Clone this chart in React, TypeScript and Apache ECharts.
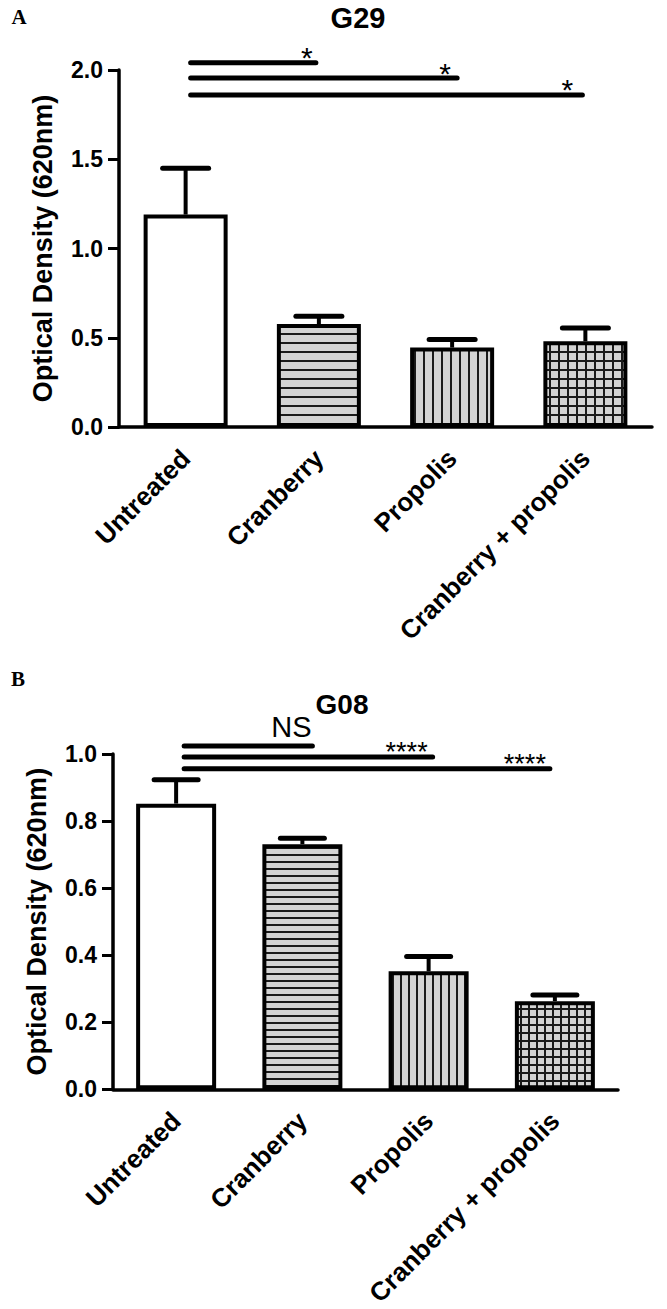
import React, { useEffect, useRef } from 'react';
import * as echarts from 'echarts';

const categories = ['Untreated', 'Cranberry', 'Propolis', 'Cranberry + propolis'];

// Panel A (G29)
const meanA = [1.19, 0.577, 0.445, 0.48];
const semA = [0.26, 0.043, 0.045, 0.075];
const sigToA = [1, 2, 3];
const sigYA = [2.04, 1.955, 1.86];
const sigLabelA = ['*', '*', '*'];

// Panel B (G08)
const meanB = [0.852, 0.731, 0.352, 0.263];
const semB = [0.071, 0.018, 0.044, 0.018];
const sigToB = [1, 2, 3];
const sigYB = [1.024, 0.991, 0.956];
const sigLabelB = ['NS', '****', '****'];

const FONT = 'Arial, "Liberation Sans", Helvetica, sans-serif';

function makePattern(kind: string, size: number) {
  const c = document.createElement('canvas');
  c.width = size;
  c.height = size;
  const ctx = c.getContext('2d') as CanvasRenderingContext2D;
  ctx.fillStyle = '#d3d3d3';
  ctx.fillRect(0, 0, size, size);
  ctx.fillStyle = '#1a1a1a';
  if (kind === 'h' || kind === 'grid') ctx.fillRect(0, 0, size, 2);
  if (kind === 'v' || kind === 'grid') ctx.fillRect(0, 0, 2, size);
  return { image: c, repeat: 'repeat', imageWidth: size, imageHeight: size };
}

function fillsFor(sizes: number[]) {
  return [
    '#ffffff',
    makePattern('h', sizes[0]),
    makePattern('v', sizes[1]),
    makePattern('grid', sizes[2]),
  ];
}

function yAxisCfg(gridIndex: number, max: number, interval: number) {
  return {
    gridIndex,
    type: 'value',
    min: 0,
    max,
    interval,
    name: 'Optical Density (620nm)',
    nameLocation: 'middle',
    nameGap: 63,
    nameTextStyle: { fontSize: 27, fontWeight: 'bold', color: '#000', fontFamily: FONT },
    axisLine: { show: true, lineStyle: { color: '#000', width: 3.5 } },
    axisTick: { show: true, length: 11, lineStyle: { color: '#000', width: 3 } },
    axisLabel: {
      margin: 16,
      fontSize: 23,
      fontWeight: 'bold',
      color: '#000',
      fontFamily: FONT,
      formatter: (v: number) => v.toFixed(1),
    },
    splitLine: { show: false },
  };
}

function xAxisCfg(gridIndex: number) {
  return {
    gridIndex,
    type: 'category',
    data: categories,
    axisLine: { lineStyle: { color: '#000', width: 3.5 } },
    axisTick: { alignWithLabel: true, length: 11, lineStyle: { color: '#000', width: 3 } },
    axisLabel: {
      rotate: 45,
      margin: 27,
      fontSize: 26,
      fontWeight: 'bold',
      color: '#000',
      fontFamily: FONT,
      interval: 0,
    },
  };
}

function barSeries(idx: number, means: number[], fills: any[], barWidth: number) {
  return {
    type: 'bar',
    xAxisIndex: idx,
    yAxisIndex: idx,
    barWidth,
    data: means.map((v, i) => ({
      value: v,
      itemStyle: { color: fills[i], borderColor: '#000', borderWidth: 4 },
    })),
    z: 2,
  };
}

function errSeries(idx: number, means: number[], sems: number[], capHalf: number) {
  return {
    type: 'custom',
    xAxisIndex: idx,
    yAxisIndex: idx,
    z: 3,
    data: means.map((m, i) => [i, m, sems[i]]),
    renderItem: (params: any, api: any) => {
      const i = api.value(0);
      const m = api.value(1);
      const e = api.value(2);
      const base = api.coord([i, m]);
      const top = api.coord([i, m + e]);
      return {
        type: 'group',
        children: [
          {
            type: 'line',
            shape: { x1: base[0], y1: base[1], x2: top[0], y2: top[1] },
            style: { stroke: '#000', lineWidth: 4 },
          },
          {
            type: 'line',
            shape: { x1: top[0] - capHalf, y1: top[1], x2: top[0] + capHalf, y2: top[1] },
            style: { stroke: '#000', lineWidth: 5, lineCap: 'round' },
          },
        ],
      };
    },
  };
}

function sigSeries(
  idx: number,
  tos: number[],
  ys: number[],
  labels: string[],
  cfg: { startDx: number; endDx: number[]; size: number[]; dx: number[]; dy: number[] }
) {
  return {
    type: 'custom',
    xAxisIndex: idx,
    yAxisIndex: idx,
    z: 4,
    clip: false,
    data: tos.map((t, i) => [t, ys[i], i]),
    renderItem: (params: any, api: any) => {
      const to = api.value(0);
      const y = api.value(1);
      const k = api.value(2);
      const start = api.coord([0, y]);
      const end = api.coord([to, y]);
      const ex = end[0] + cfg.endDx[k];
      return {
        type: 'group',
        children: [
          {
            type: 'line',
            shape: { x1: start[0] + cfg.startDx, y1: start[1], x2: ex, y2: end[1] },
            style: { stroke: '#000', lineWidth: 5, lineCap: 'round' },
          },
          {
            type: 'text',
            x: ex + cfg.dx[k],
            y: end[1] + cfg.dy[k],
            style: {
              text: labels[k],
              fontSize: cfg.size[k],
              fontWeight: 'normal',
              fontFamily: FONT,
              fill: '#000',
              align: 'center',
              verticalAlign: 'middle',
            },
          },
        ],
      };
    },
  };
}

export default function App() {
  const ref = useRef<HTMLDivElement>(null);
  useEffect(() => {
    if (!ref.current) return;
    const chart = echarts.init(ref.current, undefined, { renderer: 'svg' });
    const fillsA = fillsFor([9, 9, 9]);
    const fillsB = fillsFor([7, 8, 8]);
    const serif = '"Times New Roman", "Liberation Serif", serif';
    chart.setOption({
      animation: false,
      backgroundColor: '#ffffff',
      grid: [
        { left: 119, top: 70, width: 533, height: 357 },
        { left: 113, top: 754, width: 505, height: 338 },
      ],
      xAxis: [xAxisCfg(0), xAxisCfg(1)],
      yAxis: [yAxisCfg(0, 2.0, 0.5), yAxisCfg(1, 1.0, 0.2)],
      graphic: [
        {
          type: 'text', x: 19, y: 17,
          style: { text: 'A', fontSize: 21, fontWeight: 'bold', fontFamily: serif, fill: '#000', align: 'center', verticalAlign: 'middle' },
        },
        {
          type: 'text', x: 18, y: 679,
          style: { text: 'B', fontSize: 21, fontWeight: 'bold', fontFamily: serif, fill: '#000', align: 'center', verticalAlign: 'middle' },
        },
        {
          type: 'text', x: 358, y: 18,
          style: { text: 'G29', fontSize: 29, fontWeight: 'bold', fontFamily: FONT, fill: '#000', align: 'center', verticalAlign: 'middle' },
        },
        {
          type: 'text', x: 342, y: 704,
          style: { text: 'G08', fontSize: 28, fontWeight: 'bold', fontFamily: FONT, fill: '#000', align: 'center', verticalAlign: 'middle' },
        },
      ],
      series: [
        barSeries(0, meanA, fillsA, 84),
        errSeries(0, meanA, semA, 23),
        sigSeries(0, sigToA, sigYA, sigLabelA, {
          startDx: 5, endDx: [-3, 5, -3], size: [30, 30, 30], dx: [-9, -12, -15], dy: [-5, -5, -5],
        }),
        barSeries(1, meanB, fillsB, 80),
        errSeries(1, meanB, semB, 22),
        sigSeries(1, sigToB, sigYB, sigLabelB, {
          startDx: 8, endDx: [10, 4, -5], size: [29, 27, 27], dx: [-21, -26, -25], dy: [-19, -5, -5],
        }),
      ],
    });
    return () => chart.dispose();
  }, []);
  return (
    <div
      ref={ref}
      style={{ position: 'absolute', left: 0, top: 0, width: 667, height: 1309, background: '#fff' }}
    />
  );
}
